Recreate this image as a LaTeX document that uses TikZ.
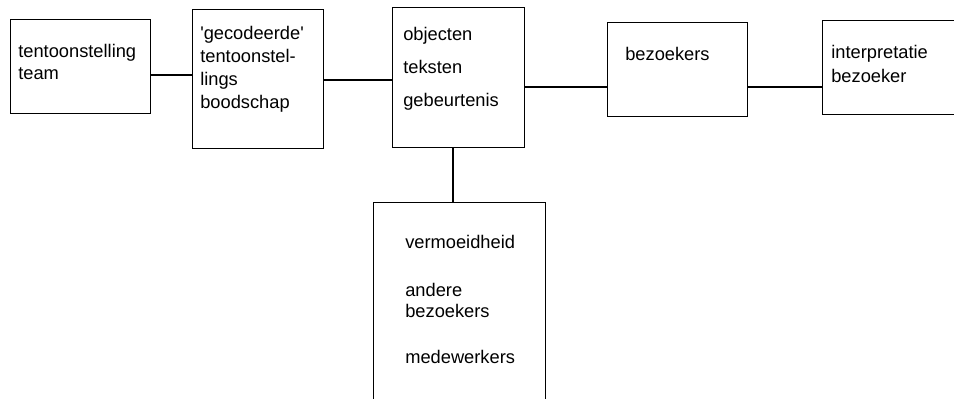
\documentclass[tikz,border=0pt]{standalone}
\usepackage{fontspec}
\setmainfont{Liberation Sans}
\usetikzlibrary{positioning}

\tikzset{
	box/.style={draw, line width=0.8pt, anchor=north west, inner sep=0pt},
	label/.style={anchor=north west, inner sep=0pt, align=left, font=\fontsize{13}{15.5}\selectfont},
}

\begin{document}
\begin{tikzpicture}[x=0.025cm, y=0.025cm]
		\useasboundingbox (0,0) rectangle (954,-399);
		% boxes
		\node [box, minimum width=3.5cm, minimum height=2.35cm] (team) at (10,-19) {};
		\node [box, minimum width=3.275cm, minimum height=3.475cm] (code) at (192,-9) {};
		\node [box, minimum width=3.3cm, minimum height=3.5cm] (obj) at (392,-7) {};
		\node [box, minimum width=3.5cm, minimum height=2.35cm] (bez) at (607,-22) {};
		\node [box, minimum width=3.5cm, minimum height=2.35cm] (interp) at (822,-20) {};
		\node [box, minimum width=4.3cm, minimum height=5.5cm] (stoor) at (373,-202) {};
		% texts
		\node [label] (tTeam) at (18,-44) {tentoonstelling\\team};
		\node [label, font=\fontsize{13}{16.4}\selectfont] (tCode) at (200,-26) {\textquotesingle gecodeerde\textquotesingle\\tentoonstel-\\lings\\boodschap};
		\node [label, font=\fontsize{13}{23.5}\selectfont] (tObj) at (403,-27) {objecten\\teksten\\gebeurtenis};
		\node [label] (tBez) at (625,-47) {bezoekers};
		\node [label, font=\fontsize{13}{17}\selectfont] (tInterp) at (831,-45) {interpretatie\\bezoeker};
		\node [label, font=\fontsize{13}{15}\selectfont] (tStoor) at (405,-235) {vermoeidheid\\[19pt]andere\\bezoekers\\[18pt]medewerkers};
		% connectors
		\draw [line width=0.8pt] (team.east |- 0,-75) -- (code.west |- 0,-75);
		\draw [line width=0.8pt] (code.east |- 0,-80) -- (obj.west |- 0,-80);
		\draw [line width=0.8pt] (obj.east |- 0,-87) -- (bez.west |- 0,-87);
		\draw [line width=0.8pt] (bez.east |- 0,-87) -- (interp.west |- 0,-87);
		\draw [line width=0.8pt] (obj.south -| 453,0) -- (stoor.north -| 453,0);
	\end{tikzpicture}
\end{document}
